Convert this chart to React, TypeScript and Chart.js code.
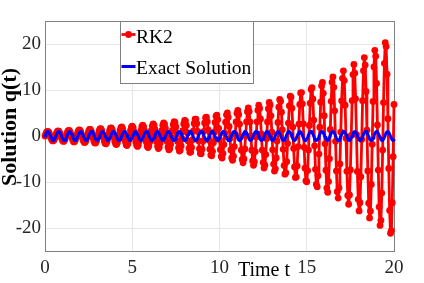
import React, { useEffect, useRef } from 'react';
import { Chart, registerables } from 'chart.js';

Chart.register(...registerables);

// ---- data ----
const T_STEP = 0.05; // sampling interval of both series (t = 0 ... 20)
const X_TICKS = [0, 5, 10, 15, 20];
const Y_TICKS = [-20, -10, 0, 10, 20];
const SERIES_NAMES = ['RK2', 'Exact Solution'];
const X_TITLE = 'Time t';
const Y_TITLE = 'Solution q(t)';

const RK2_Q = [
  0, 0.5, 0.88, 1.02, 0.9, 0.54, 0.03, -0.5, -0.9, -1.07, -0.96, -0.59,
  -0.06, 0.5, 0.93, 1.12, 1.02, 0.64, 0.09, -0.49, -0.96, -1.17, -1.08, -0.7,
  -0.13, 0.49, 0.98, 1.22, 1.14, 0.76, 0.17, -0.48, -1.01, -1.28, -1.21, -0.82,
  -0.21, 0.47, 1.03, 1.33, 1.28, 0.89, 0.26, -0.46, -1.06, -1.39, -1.36, -0.96,
  -0.31, 0.44, 1.08, 1.45, 1.43, 1.04, 0.36, -0.42, -1.11, -1.51, -1.51, -1.12,
  -0.42, 0.4, 1.13, 1.57, 1.6, 1.2, 0.48, -0.38, -1.15, -1.63, -1.68, -1.29,
  -0.55, 0.35, 1.17, 1.69, 1.77, 1.38, 0.62, -0.32, -1.18, -1.75, -1.86, -1.48,
  -0.7, 0.28, 1.2, 1.82, 1.96, 1.59, 0.78, -0.24, -1.21, -1.88, -2.06, -1.69,
  -0.87, 0.19, 1.23, 1.95, 2.16, 1.81, 0.97, -0.14, -1.24, -2.01, -2.27, -1.93,
  -1.07, 0.09, 1.24, 2.08, 2.38, 2.05, 1.18, -0.03, -1.24, -2.15, -2.5, -2.19,
  -1.29, -0.04, 1.24, 2.22, 2.61, 2.32, 1.41, 0.11, -1.24, -2.28, -2.74, -2.47,
  -1.54, -0.19, 1.23, 2.35, 2.86, 2.62, 1.68, 0.28, -1.22, -2.41, -2.99, -2.78,
  -1.83, -0.37, 1.2, 2.48, 3.12, 2.94, 1.98, 0.48, -1.18, -2.54, -3.26, -3.12,
  -2.15, -0.59, 1.15, 2.61, 3.4, 3.3, 2.32, 0.71, -1.11, -2.67, -3.54, -3.48,
  -2.5, -0.84, 1.07, 2.73, 3.68, 3.68, 2.7, 0.98, -1.02, -2.78, -3.83, -3.88,
  -2.9, -1.13, 0.96, 2.83, 3.98, 4.09, 3.12, 1.3, -0.9, -2.88, -4.14, -4.31,
  -3.34, -1.47, 0.82, 2.93, 4.29, 4.54, 3.58, 1.66, -0.74, -2.97, -4.45, -4.78,
  -3.83, -1.86, 0.64, 3.01, 4.61, 5.02, 4.1, 2.07, -0.53, -3.04, -4.78, -5.27,
  -4.38, -2.3, 0.41, 3.06, 4.94, 5.54, 4.67, 2.55, -0.28, -3.08, -5.11, -5.81,
  -4.98, -2.81, 0.14, 3.09, 5.27, 6.09, 5.3, 3.09, 0.02, -3.1, -5.44, -6.38,
  -5.63, -3.38, -0.2, 3.09, 5.61, 6.68, 5.99, 3.7, 0.39, -3.07, -5.77, -6.98,
  -6.36, -4.03, -0.6, 3.04, 5.94, 7.3, 6.74, 4.39, 0.83, -3.01, -6.1, -7.62,
  -7.14, -4.76, -1.08, 2.95, 6.26, 7.96, 7.57, 5.16, 1.34, -2.89, -6.42, -8.3,
  -8.0, -5.58, -1.64, 2.81, 6.57, 8.65, 8.46, 6.03, 1.95, -2.71, -6.72, -9.01,
  -8.94, -6.5, -2.29, 2.59, 6.86, 9.37, 9.44, 6.99, 2.65, -2.46, -7.0, -9.75,
  -9.95, -7.52, -3.05, 2.3, 7.12, 10.13, 10.49, 8.07, 3.47, -2.13, -7.24, -10.52,
  -11.05, -8.65, -3.92, 1.92, 7.35, 10.91, 11.63, 9.27, 4.41, -1.7, -7.45, -11.31,
  -12.23, -9.91, -4.93, 1.44, 7.53, 11.71, 12.85, 10.59, 5.48, -1.16, -7.6, -12.12,
  -13.49, -11.3, -6.07, 0.85, 7.65, 12.53, 14.16, 12.05, 6.7, -0.5, -7.69, -12.94,
  -14.84, -12.83, -7.38, 0.12, 7.7, 13.36, 15.55, 13.65, 8.09, 0.3, -7.7, -13.77,
  -16.29, -14.51, -8.86, -0.76, 7.67, 14.19, 17.04, 15.41, 9.67, 1.26, -7.61, -14.6,
  -17.82, -16.36, -10.53, -1.81, 7.52, 15.0, 18.62, 17.34, 11.44, 2.4, -7.41, -15.41,
  -19.44, -18.37, -12.4, -3.05, 7.26, 15.8, 20.28, 19.44, 13.43, 3.75, -7.07, -16.19,
  -21.14, -20.56, -14.51, -4.51, 6.85,
];

const EXACT_Q = [
  0, 0.48, 0.84, 1.0, 0.91, 0.6, 0.14, -0.35, -0.76, -0.98, -0.96, -0.71, -0.28, 0.22, 0.66, 0.94, 0.99, 0.8, 0.41, -0.08, -0.54, -0.88, -1.0, -0.88, -0.54,
  -0.07, 0.42, 0.8, 0.99, 0.93, 0.65, 0.21, -0.29, -0.71, -0.96, -0.98, -0.75, -0.34, 0.15, 0.61, 0.91, 1.0, 0.84, 0.47, -0.01, -0.49, -0.85, -1.0, -0.91, -0.59,
  -0.13, 0.36, 0.76, 0.98, 0.96, 0.7, 0.27, -0.22, -0.66, -0.94, -0.99, -0.79, -0.4, 0.08, 0.55, 0.88, 1.0, 0.87, 0.53, 0.06, -0.43, -0.81, -0.99, -0.93, -0.64,
  -0.2, 0.3, 0.72, 0.96, 0.97, 0.75, 0.33, -0.16, -0.61, -0.92, -1.0, -0.83, -0.46, 0.02, 0.49, 0.85, 1.0, 0.9, 0.58, 0.12, -0.37, -0.77, -0.98, -0.95, -0.69,
  -0.26, 0.23, 0.67, 0.94, 0.99, 0.79, 0.4, -0.09, -0.56, -0.89, -1.0, -0.87, -0.52, -0.05, 0.44, 0.81, 0.99, 0.93, 0.64, 0.19, -0.3, -0.72, -0.97, -0.97, -0.74,
  -0.33, 0.17, 0.62, 0.92, 1.0, 0.83, 0.46, -0.03, -0.5, -0.86, -1.0, -0.9, -0.58, -0.11, 0.38, 0.77, 0.98, 0.95, 0.69, 0.25, -0.24, -0.68, -0.95, -0.99, -0.78,
  -0.39, 0.1, 0.57, 0.89, 1.0, 0.86, 0.51, 0.04, -0.44, -0.82, -0.99, -0.93, -0.63, -0.18, 0.31, 0.73, 0.97, 0.97, 0.73, 0.32, -0.18, -0.63, -0.92, -0.99, -0.82,
  -0.45, 0.04, 0.51, 0.86, 1.0, 0.89, 0.57, 0.11, -0.38, -0.78, -0.98, -0.95, -0.68, -0.25, 0.25, 0.68, 0.95, 0.98, 0.78, 0.38, -0.11, -0.57, -0.9, -1.0, -0.86,
  -0.51, -0.03, 0.45, 0.82, 0.99, 0.92, 0.62, 0.17, -0.32, -0.74, -0.97, -0.97, -0.73, -0.31, 0.18, 0.63, 0.93, 0.99, 0.82, 0.44, -0.04, -0.52, -0.86, -1.0, -0.89,
  -0.56, -0.1, 0.39, 0.78, 0.99, 0.95, 0.67, 0.24, -0.26, -0.69, -0.95, -0.98, -0.77, -0.37, 0.12, 0.58, 0.9, 1.0, 0.85, 0.5, 0.02, -0.46, -0.83, -1.0, -0.92,
  -0.62, -0.16, 0.33, 0.74, 0.97, 0.97, 0.72, 0.3, -0.19, -0.64, -0.93, -0.99, -0.81, -0.43, 0.05, 0.53, 0.87, 1.0, 0.89, 0.56, 0.09, -0.4, -0.79, -0.99, -0.94,
  -0.67, -0.23, 0.27, 0.7, 0.96, 0.98, 0.77, 0.36, -0.13, -0.59, -0.9, -1.0, -0.85, -0.49, -0.01, 0.47, 0.83, 1.0, 0.91, 0.61, 0.15, -0.34, -0.75, -0.97, -0.96,
  -0.71, -0.29, 0.2, 0.65, 0.93, 0.99, 0.81, 0.42, -0.06, -0.53, -0.87, -1.0, -0.88, -0.55, -0.08, 0.41, 0.8, 0.99, 0.94, 0.66, 0.22, -0.28, -0.7, -0.96, -0.98,
  -0.76, -0.35, 0.14, 0.6, 0.91, 1.0, 0.84, 0.48, 0.0, -0.48, -0.84, -1.0, -0.91, -0.6, -0.15, 0.35, 0.75, 0.98, 0.96, 0.71, 0.28, -0.21, -0.65, -0.94, -0.99,
  -0.8, -0.42, 0.07, 0.54, 0.88, 1.0, 0.88, 0.54, 0.07, -0.42, -0.8, -0.99, -0.94, -0.65, -0.21, 0.28, 0.71, 0.96, 0.98, 0.75, 0.35, -0.15, -0.6, -0.91, -1.0,
  -0.84, -0.48, 0.0, 0.48, 0.84, 1.0, 0.91, 0.59, 0.14, -0.36, -0.76, -0.98, -0.96, -0.7, -0.28, 0.22, 0.66, 0.94, 0.99, 0.8, 0.41, -0.08, -0.55, -0.88, -1.0,
  -0.87,
];

const FONT = "'Liberation Serif', 'Times New Roman', serif";
const RED = '#ff0000';
const BLUE = '#0000ff';
const FRAME = '#808080';
const GRID = '#e6e6e6';
const TEXT = '#262626';

export default function App() {
  const ref = useRef<HTMLCanvasElement>(null);

  useEffect(() => {
    const canvas = ref.current;
    if (!canvas) return;

    const overlay = {
      id: 'overlay',
      beforeDatasetsDraw(chart: any) {
        const { ctx, chartArea: a } = chart;
        ctx.save();
        ctx.strokeStyle = FRAME;
        ctx.lineWidth = 1;
        ctx.strokeRect(
          Math.round(a.left) + 0.5,
          Math.round(a.top) + 0.5,
          Math.round(a.right - a.left),
          Math.round(a.bottom - a.top)
        );
        ctx.restore();
      },
      afterDraw(chart: any) {
        const { ctx } = chart;
        const ds = chart.data.datasets;
        ctx.save();
        // legend box
        const lx = 120.5, ly = 21.5, lw = 133, lh = 62;
        ctx.fillStyle = '#ffffff';
        ctx.fillRect(lx, ly, lw, lh);
        ctx.strokeStyle = FRAME;
        ctx.lineWidth = 1;
        ctx.strokeRect(lx, ly, lw, lh);
        const rows = [
          { y: 34.5, base: 42.5 },
          { y: 66.5, base: 73.5 },
        ];
        rows.forEach((r, i) => {
          const d = ds[i];
          ctx.strokeStyle = d.borderColor;
          ctx.lineWidth = d.borderWidth;
          ctx.lineCap = 'butt';
          ctx.beginPath();
          ctx.moveTo(lx + 1, r.y);
          ctx.lineTo(lx + 15, r.y);
          ctx.stroke();
          if (d.pointRadius > 0) {
            ctx.fillStyle = d.pointBackgroundColor;
            ctx.beginPath();
            ctx.arc(lx + 8, r.y, d.pointRadius, 0, Math.PI * 2);
            ctx.fill();
          }
          ctx.fillStyle = '#000000';
          ctx.font = `19.5px ${FONT}`;
          ctx.textAlign = 'left';
          ctx.textBaseline = 'alphabetic';
          ctx.fillText(d.label, lx + 15.5, r.base);
        });
        // axis titles
        ctx.fillStyle = '#000000';
        ctx.font = `20px ${FONT}`;
        ctx.textAlign = 'center';
        ctx.textBaseline = 'alphabetic';
        ctx.fillText(X_TITLE, 264, 275.5);
        ctx.translate(10.5, 127);
        ctx.rotate(-Math.PI / 2);
        ctx.font = `bold 22px ${FONT}`;
        ctx.textBaseline = 'middle';
        ctx.fillText(Y_TITLE, 0, 0);
        ctx.restore();
      },
    };

    const chart = new Chart(canvas, {
      type: 'line',
      data: {
        datasets: [
          {
            label: SERIES_NAMES[0],
            data: RK2_Q.map((y, i) => ({ x: i * T_STEP, y })),
            borderColor: RED,
            backgroundColor: RED,
            borderWidth: 2.8,
            borderJoinStyle: 'round',
            borderCapStyle: 'round',
            pointRadius: 3.4,
            pointBackgroundColor: RED,
            pointBorderWidth: 0,
            pointBorderColor: RED,
            tension: 0,
            clip: false,
            order: 2,
          },
          {
            label: SERIES_NAMES[1],
            data: EXACT_Q.map((y, i) => ({ x: i * T_STEP, y })),
            borderColor: BLUE,
            backgroundColor: BLUE,
            borderWidth: 3,
            borderJoinStyle: 'round',
            borderCapStyle: 'round',
            pointRadius: 0,
            tension: 0,
            clip: false,
            order: 1,
          },
        ],
      },
      options: {
        responsive: false,
        animation: false,
        events: [],
        layout: { padding: { left: 0, top: 21, right: 30, bottom: 0 } },
        plugins: {
          legend: { display: false },
          tooltip: { enabled: false },
          title: { display: false },
        },
        scales: {
          x: {
            type: 'linear',
            min: X_TICKS[0],
            max: X_TICKS[X_TICKS.length - 1],
            afterBuildTicks: (s: any) => {
              s.ticks = X_TICKS.map((v) => ({ value: v }));
            },
            afterFit: (s: any) => {
              s.height = 32;
            },
            ticks: {
              color: TEXT,
              padding: 6,
              maxRotation: 0,
              font: { family: FONT, size: 19, lineHeight: 1.2 },
            },
            grid: { color: GRID, drawTicks: false },
            border: { color: FRAME },
          },
          y: {
            type: 'linear',
            min: -25,
            max: 25,
            afterBuildTicks: (s: any) => {
              s.ticks = Y_TICKS.map((v) => ({ value: v }));
            },
            afterFit: (s: any) => {
              s.width = 45;
            },
            ticks: {
              color: TEXT,
              padding: 4,
              font: { family: FONT, size: 19, lineHeight: 1.2 },
            },
            grid: { color: GRID, drawTicks: false },
            border: { color: FRAME },
          },
        },
      },
      plugins: [overlay],
    });

    return () => chart.destroy();
  }, []);

  return (
    <div style={{ position: 'fixed', left: 0, top: 0, width: 424, height: 283, background: '#ffffff' }}>
      <canvas ref={ref} width={424} height={283} style={{ display: 'block', width: 424, height: 283 }} />
    </div>
  );
}
